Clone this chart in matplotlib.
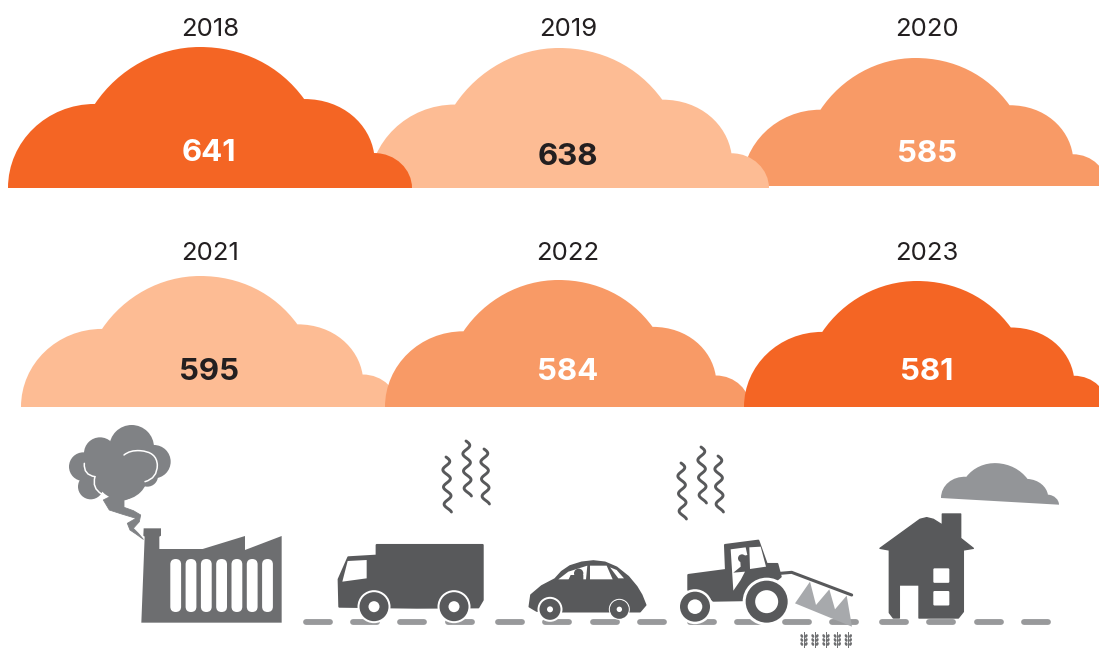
#!/usr/bin/env python3
# -*- coding: utf-8 -*-
import numpy as np
import matplotlib
matplotlib.use('Agg')
import matplotlib.pyplot as plt
from matplotlib.path import Path
from matplotlib.patches import PathPatch, Polygon, Circle, FancyBboxPatch, Ellipse

plt.rcParams['font.family'] = ['Inter', 'DejaVu Sans']

# values
years = ['2018', '2019', '2020', '2021', '2022', '2023']
values = [641, 638, 585, 595, 584, 581]

ORANGE = '#F46524'
MID = '#F89A66'
LIGHT = '#FDBC94'
INK = '#231F20'
cloud_colors = [ORANGE, LIGHT, MID, LIGHT, MID, ORANGE]
value_colors = ['white', INK, 'white', INK, 'white', 'white']

# layout in pixels: left, width, base, top of each cloud
cloud_boxes = [(8, 404, 188, 47), (369, 400, 188, 48), (742, 365, 186, 58),
               (21, 377, 407, 276), (385, 365, 407, 280), (744, 364, 407, 281)]
year_pos = [(210, 30), (568, 30), (927, 29), (210, 253), (568, 253), (927, 253)]
value_pos = [(209, 153), (568, 157), (927, 154), (209, 372), (568, 372), (927, 372)]
draw_order = [2, 1, 0, 3, 4, 5]

road_starts = [303, 350, 397, 445, 495, 542, 590, 637, 687, 734, 782, 829, 879, 926, 974, 1021]

DARK = '#58595B'
FACTORY = '#6D6E70'
SMOKE = '#808285'
ROAD = '#98999B'
SPRAY = '#A7A9AC'
SKY = '#939598'

fig = plt.figure(figsize=(10.99, 6.48), dpi=100)
ax = fig.add_axes([0, 0, 1, 1])
ax.set_xlim(0, 1099)
ax.set_ylim(648, 0)
ax.axis('off')

# cloud outline, 0-1 in both directions
CLOUD = [(0, 0), (0, .33), (.096, .596), (.215, .596),
         (.273, .844), (.371, 1), (.475, 1),
         (.579, 1), (.672, .872), (.733, .631),
         (.83, .631), (.895, .45), (.906, .248),
         (.96, .248), (1, .13), (1, 0), (0, 0)]
CLOUD_CODES = [Path.MOVETO] + [Path.CURVE4] * 15 + [Path.LINETO]


def cloud(left, width, base, top, color, z=1, slope=0):
    h = base - top
    verts = [(left + u * width, base - v * h + slope * u) for u, v in CLOUD]
    ax.add_patch(PathPatch(Path(verts, CLOUD_CODES), fc=color, ec='none', zorder=z))


# the zoomed crops were 3x, so icon points are noted in crop coordinates
def poly(points, ox, oy, color, z=3, round_px=0):
    xy = [(ox + x / 3, oy + y / 3) for x, y in points]
    ax.add_patch(Polygon(xy, closed=True, fc=color, ec=color if round_px else 'none',
                         lw=round_px, joinstyle='round', zorder=z))


def disc(x, y, r, color, z=4):
    ax.add_patch(Circle((x, y), r, fc=color, ec='none', zorder=z))


def wheel(x, y, r_white, r_dark, r_hole, z=4):
    disc(x, y, r_white, 'white', z)
    disc(x, y, r_dark, DARK, z + .1)
    disc(x, y, r_hole, 'white', z + .2)


def squiggle(x, y0, y1):
    t = np.linspace(0, 1, 120)
    ax.plot(x + 3.6 * np.sin(t * 2 * np.pi * 3.2) + 2 * t - 1, y0 + (y1 - y0) * t,
            color=DARK, lw=2.1, solid_capstyle='round', zorder=3)


def white_box(x, y, w, h, r, z=5):
    ax.add_patch(FancyBboxPatch((x + r, y + r), w - 2 * r, h - 2 * r,
                                boxstyle='round,pad=%s,rounding_size=%s' % (r, r),
                                fc='white', ec='none', zorder=z))


def smooth_line(points, ox, oy, color='white', lw=1.1, z=5):
    codes = [Path.MOVETO] + [Path.CURVE3] * (len(points) - 1)
    xy = [(ox + x / 3, oy + y / 3) for x, y in points]
    ax.add_patch(PathPatch(Path(xy, codes), fc='none', ec=color, lw=lw,
                           capstyle='round', zorder=z))


for i in draw_order:
    left, width, base, top = cloud_boxes[i]
    cloud(left, width, base, top, cloud_colors[i])

for i, year in enumerate(years):
    ax.text(year_pos[i][0], year_pos[i][1], year, ha='center', va='center',
            fontsize=18.5, color=INK, zorder=6)
    ax.text(value_pos[i][0], value_pos[i][1], str(values[i]), ha='center', va='center',
            fontsize=22.5, fontweight='bold', color=value_colors[i], zorder=6)

# road
for x in road_starts:
    ax.plot([x + 3, x + 27], [622, 622], color=ROAD, lw=4.2, solid_capstyle='round', zorder=2)

# factory
ox, oy = 50, 420
poly([(274, 608), (284, 350), (280, 347), (281, 325), (333, 325), (333, 347), (328, 350),
      (328, 387), (458, 387), (585, 348), (585, 390), (695, 348), (695, 608)], ox, oy, FACTORY)
for k in range(7):
    white_box(170.3 + k * 15.3, 559, 10.8, 53, 5.4)

# smoke
for cx, cy, r in [(100, 140, 43), (122, 200, 38), (150, 100, 48), (245, 82, 67),
                  (312, 125, 50), (292, 168, 32), (215, 160, 80), (150, 165, 50),
                  (215, 200, 42)]:
    disc(ox + cx / 3, oy + cy / 3, r / 3, SMOKE, 3)
poly([(190, 225), (222, 235), (222, 262), (250, 272), (272, 285), (268, 305), (250, 325), (265, 340),
      (280, 358), (258, 342), (240, 330), (232, 310), (258, 295), (215, 282), (178, 270), (160, 240)],
     ox, oy, SMOKE, round_px=.6)
smooth_line([(222, 105), (240, 90), (270, 92), (320, 95), (322, 135), (322, 175), (285, 185)], ox, oy)
smooth_line([(103, 130), (100, 165), (135, 170), (125, 205), (155, 222)], ox, oy)

# truck
poly([(980, 375), (1298, 375), (1298, 540), (1285, 562), (1100, 563), (868, 560), (866, 478),
      (895, 412), (980, 407)], ox, oy, DARK, round_px=1.5)
poly([(893, 423), (950, 420), (950, 475), (877, 485)], ox, oy, 'white', z=4)
wheel(ox + 972 / 3, oy + 560 / 3, 16.5, 14.5, 5.5)
wheel(ox + 1212 / 3, oy + 560 / 3, 16.5, 14.5, 5.5)

# exhaust lines
squiggle(447, 457, 512)
squiggle(467, 441, 496)
squiggle(485, 449, 504)
squiggle(682, 463, 519)
squiggle(702, 447, 503)
squiggle(719, 456, 512)

# car
ox, oy = 500, 430
poly([(88, 530), (93, 495), (125, 468), (165, 447), (185, 425), (210, 408), (245, 397), (280, 393),
      (315, 397), (350, 412), (385, 440), (410, 470), (425, 495), (437, 525), (420, 545), (180, 545),
      (110, 543)], ox, oy, DARK, round_px=1.2)
poly([(175, 448), (205, 425), (262, 407), (258, 448)], ox, oy, 'white', z=4)
poly([(270, 407), (320, 407), (338, 448), (270, 448)], ox, oy, 'white', z=4)
poly([(330, 412), (350, 420), (372, 445), (355, 445)], ox, oy, 'white', z=4)
poly([(205, 450), (212, 435), (250, 435), (250, 450)], ox, oy, DARK, z=4.5)
disc(ox + 236 / 3, oy + 430 / 3, 14 / 3, DARK, 4.5)
wheel(ox + 150 / 3, oy + 538 / 3, 12.5, 10.5, 3)
wheel(ox + 358 / 3, oy + 538 / 3, 10.5, 9.5, 2.7)

# tractor
poly([(885, 520), (930, 455), (948, 525), (988, 478), (1005, 538), (1040, 497), (1056, 590)],
     ox, oy, SPRAY, z=2.5)
ax.plot([ox + 840 / 3, ox + 875 / 3, ox + 1055 / 3], [oy + 430 / 3, oy + 427 / 3, oy + 495 / 3],
        color=DARK, lw=2.2, solid_capstyle='round', zorder=3)
poly([(565, 435), (678, 420), (675, 345), (775, 332), (800, 402), (832, 402), (842, 440),
      (760, 510), (640, 512), (610, 485), (565, 480)], ox, oy, DARK, round_px=1.5)
poly([(692, 358), (737, 352), (742, 375), (720, 380), (722, 410), (700, 428), (735, 425),
      (722, 450), (700, 482)], ox, oy, 'white', z=4)
poly([(748, 352), (782, 350), (798, 410), (750, 417)], ox, oy, 'white', z=4)
disc(ox + 726 / 3, oy + 385 / 3, 12 / 3, DARK, 4.5)
wheel(ox + 800 / 3, oy + 515 / 3, 24, 21, 11.5)
wheel(ox + 585 / 3, oy + 530 / 3, 17.5, 15, 7.3)

# wheat
for wx in [912, 945, 978, 1012, 1045]:
    x = ox + wx / 3
    ax.plot([x, x], [632, 648], color=FACTORY, lw=.7, zorder=3)
    for wy in [636, 640, 644]:
        ax.add_patch(Ellipse((x - 2.2, wy), 2.6, 3.8, angle=-25, fc=FACTORY, ec='none', zorder=3))
        ax.add_patch(Ellipse((x + 2.2, wy), 2.6, 3.8, angle=25, fc=FACTORY, ec='none', zorder=3))

# house
ox, oy = 860, 440
poly([(60, 325), (180, 238), (200, 233), (220, 238), (247, 255), (247, 222), (302, 222), (302, 295),
      (340, 325), (310, 330), (310, 515), (295, 534), (177, 534), (177, 435), (118, 435), (118, 534),
      (100, 534), (88, 518), (88, 330)], ox, oy, DARK, round_px=1)
white_box(ox + 220 / 3, oy + 385 / 3, 16, 14.5, 1.2)
white_box(ox + 220 / 3, oy + 453 / 3, 16, 14.5, 1.2)

# small cloud above the house
cloud(941, 118, 498, 460, SKY, z=3, slope=6.7)

fig.savefig('out.png', dpi=100, facecolor='white')
